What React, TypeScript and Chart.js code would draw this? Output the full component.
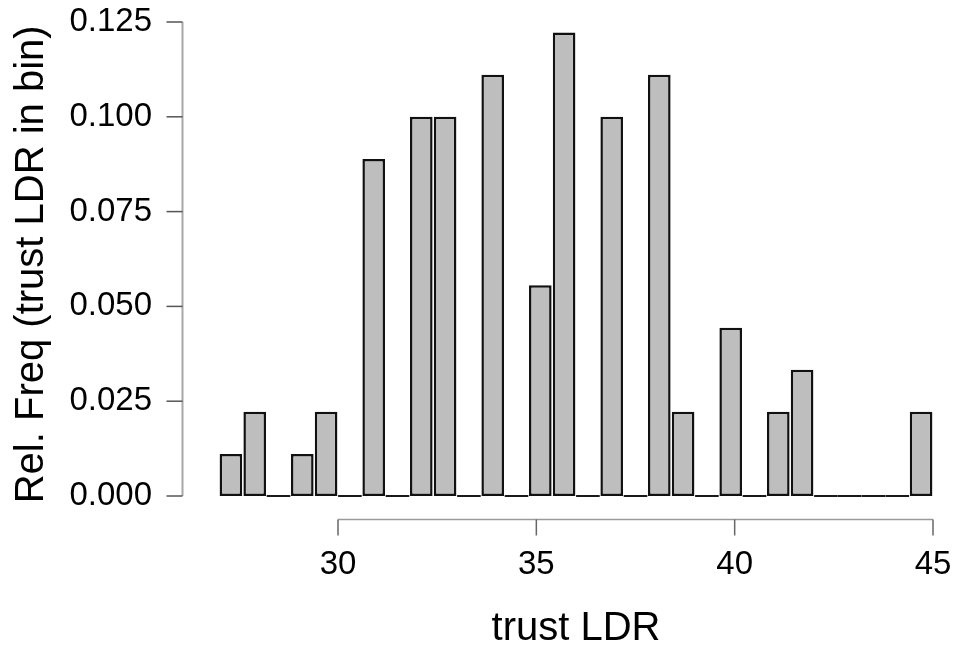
import React, { useEffect, useRef } from "react";
import { Chart, registerables } from "chart.js";

Chart.register(...registerables);

// Bin centres (trust LDR) and relative frequency per bin
const binCenters = [
  27.3, 27.9, 28.5, 29.1, 29.7, 30.3, 30.9, 31.5, 32.1, 32.7,
  33.3, 33.9, 34.5, 35.1, 35.7, 36.3, 36.9, 37.5, 38.1, 38.7,
  39.3, 39.9, 40.5, 41.1, 41.7, 42.3, 42.9, 43.5, 44.1, 44.7,
];
const relFreq = [
  0.0111, 0.0222, 0, 0.0111, 0.0222, 0, 0.0889, 0, 0.1, 0.1,
  0, 0.1111, 0, 0.0556, 0.1222, 0, 0.1, 0, 0.1111, 0.0222,
  0, 0.0444, 0, 0.0222, 0.0333, 0, 0, 0, 0, 0.0222,
];
const xTickValues = [30, 35, 40, 45];
const yTickValues = [0, 0.025, 0.05, 0.075, 0.1, 0.125];
const xTitle = "trust LDR";
const yTitle = "Rel. Freq (trust LDR in bin)";

const FONT = "'Liberation Sans', Arial, Helvetica, sans-serif";

const rAxesPlugin = {
  id: "rAxes",
  afterDatasetsDraw(chart: any) {
    const ctx = chart.ctx;
    const xs = chart.scales.x;
    const ys = chart.scales.y;
    const area = chart.chartArea;
    ctx.save();

    // zero-height bins drawn as baseline segments (R style)
    const meta = chart.getDatasetMeta(0);
    ctx.strokeStyle = "#1a1a1a";
    ctx.lineWidth = 2;
    meta.data.forEach((el: any, i: number) => {
      if (relFreq[i] !== 0) return;
      const p = el.getProps(["x", "width", "base"], true);
      ctx.beginPath();
      ctx.moveTo(p.x - p.width / 2 - 0.5, p.base);
      ctx.lineTo(p.x + p.width / 2 + 0.5, p.base);
      ctx.stroke();
    });

    // y axis
    const yAx = Math.round(area.left) + 0.5;
    const yPix = ys.ticks.map((t: any) => ys.getPixelForValue(t.value));
    ctx.strokeStyle = "#a8a8a8";
    ctx.lineWidth = 2;
    ctx.beginPath();
    ctx.moveTo(yAx, Math.min(...yPix));
    ctx.lineTo(yAx, Math.max(...yPix));
    ctx.stroke();
    ctx.strokeStyle = "#555";
    ctx.lineWidth = 1.5;
    yPix.forEach((py: number) => {
      ctx.beginPath();
      ctx.moveTo(yAx - 16, py);
      ctx.lineTo(yAx, py);
      ctx.stroke();
    });

    // x axis
    const xAy = Math.round(area.bottom) + 0.5;
    const xPix = xs.ticks.map((t: any) => xs.getPixelForValue(t.value));
    ctx.strokeStyle = "#9a9a9a";
    ctx.lineWidth = 1.5;
    ctx.beginPath();
    ctx.moveTo(Math.min(...xPix), xAy);
    ctx.lineTo(Math.max(...xPix), xAy);
    ctx.stroke();
    ctx.strokeStyle = "#666";
    ctx.lineWidth = 1.5;
    xPix.forEach((px: number) => {
      ctx.beginPath();
      ctx.moveTo(px, xAy);
      ctx.lineTo(px, xAy + 16);
      ctx.stroke();
    });

    // axis titles, centred on the data extent (R plot-region style)
    const first = meta.data[0].getProps(["x", "width"], true);
    const last = meta.data[meta.data.length - 1].getProps(["x", "width"], true);
    const xMid = (first.x - first.width / 2 + last.x + last.width / 2) / 2;
    const yMid = (ys.getPixelForValue(0) + ys.getPixelForValue(Math.max(...relFreq))) / 2;
    ctx.fillStyle = "#000";
    ctx.font = `40px ${FONT}`;
    ctx.textAlign = "center";
    ctx.textBaseline = "alphabetic";
    ctx.fillText(xTitle, xMid, 640);
    ctx.translate(43, yMid);
    ctx.rotate(-Math.PI / 2);
    ctx.fillText(yTitle, 0, 0);

    ctx.restore();
  },
};

const zeroPad = (scale: any) => {
  scale.paddingTop = 0;
  scale.paddingBottom = 0;
  scale.paddingLeft = 0;
  scale.paddingRight = 0;
};

export default function App() {
  const ref = useRef<HTMLCanvasElement>(null);

  useEffect(() => {
    const chart = new Chart(ref.current as HTMLCanvasElement, {
      type: "bar",
      data: {
        datasets: [
          {
            data: binCenters.map((x, i) => ({ x, y: relFreq[i] })),
            backgroundColor: "#bebebe",
            borderColor: "#111",
            borderWidth: 2.5,
            borderSkipped: false,
            categoryPercentage: 1,
            barPercentage: 0.95,
          },
        ],
      },
      options: {
        animation: false,
        responsive: true,
        maintainAspectRatio: false,
        layout: { padding: { top: 22, right: 12, bottom: 0, left: 0 } },
        plugins: {
          legend: { display: false },
          tooltip: { enabled: false },
        },
        scales: {
          x: {
            type: "linear",
            min: 26.067,
            max: 45.3025,
            offset: false,
            grid: { display: false, drawTicks: false },
            border: { display: false },
            afterBuildTicks: (scale: any) => {
              scale.ticks = xTickValues.map((v) => ({ value: v }));
            },
            afterFit: (scale: any) => {
              scale.height = 126;
              zeroPad(scale);
            },
            ticks: {
              autoSkip: false,
              maxRotation: 0,
              minRotation: 0,
              padding: 26,
              color: "#000",
              font: { family: FONT, size: 33 },
              callback: (v: any) => String(v),
            },
            title: { display: false },
          },
          y: {
            type: "linear",
            min: -0.006065,
            max: 0.125,
            grid: { display: false, drawTicks: false },
            border: { display: false },
            afterBuildTicks: (scale: any) => {
              scale.ticks = yTickValues.map((v) => ({ value: v }));
            },
            afterFit: (scale: any) => {
              scale.width = 182;
              zeroPad(scale);
            },
            ticks: {
              padding: 30,
              color: "#000",
              font: { family: FONT, size: 33 },
              callback: (v: any) => Number(v).toFixed(3),
            },
            title: { display: false },
          },
        },
      },
      plugins: [rAxesPlugin],
    } as any);
    return () => chart.destroy();
  }, []);

  return (
    <div
      style={{
        position: "fixed",
        left: 0,
        top: 0,
        width: 957,
        height: 645,
        background: "#fff",
      }}
    >
      <canvas ref={ref} />
    </div>
  );
}
